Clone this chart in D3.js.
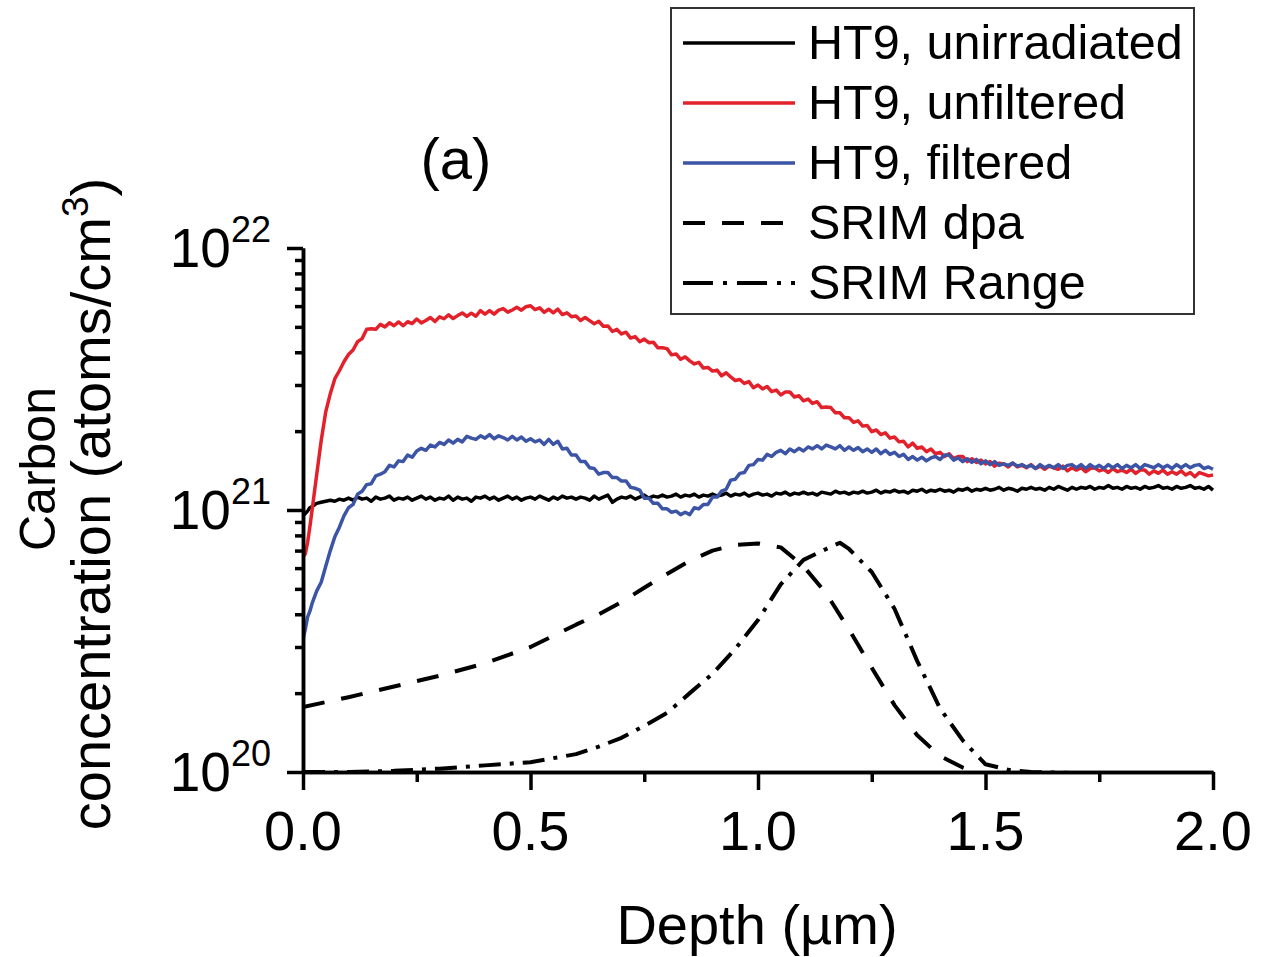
<!DOCTYPE html>
<html>
<head>
<meta charset="utf-8">
<script src="https://cdn.jsdelivr.net/npm/d3@7"></script>
<style>
  html, body { margin: 0; padding: 0; background: #ffffff; }
  svg { display: block; font-family: "Liberation Sans", Arial, Helvetica, sans-serif; }
</style>
</head>
<body>
<svg id="chart" width="1272" height="957"></svg>
<script>
// Depth grid (µm) shared by the three measured profiles
const depth = [
  0, 0.005, 0.01, 0.015, 0.02, 0.03, 0.04, 0.05, 0.06, 0.07, 0.08, 0.09,
  0.10, 0.11, 0.12, 0.13, 0.14, 0.15, 0.16, 0.17, 0.18, 0.19,
  0.20, 0.21, 0.22, 0.23, 0.24, 0.25, 0.26, 0.27, 0.28, 0.29,
  0.30, 0.31, 0.32, 0.33, 0.34, 0.35, 0.36, 0.37, 0.38, 0.39,
  0.40, 0.41, 0.42, 0.43, 0.44, 0.45, 0.46, 0.47, 0.48, 0.49,
  0.50, 0.51, 0.52, 0.53, 0.54, 0.55, 0.56, 0.57, 0.58, 0.59,
  0.60, 0.61, 0.62, 0.63, 0.64, 0.65, 0.66, 0.67, 0.68, 0.69,
  0.70, 0.71, 0.72, 0.73, 0.74, 0.75, 0.76, 0.77, 0.78, 0.79,
  0.80, 0.81, 0.82, 0.83, 0.84, 0.85, 0.86, 0.87, 0.88, 0.89,
  0.90, 0.91, 0.92, 0.93, 0.94, 0.95, 0.96, 0.97, 0.98, 0.99,
  1.00, 1.01, 1.02, 1.03, 1.04, 1.05, 1.06, 1.07, 1.08, 1.09,
  1.10, 1.11, 1.12, 1.13, 1.14, 1.15, 1.16, 1.17, 1.18, 1.19,
  1.20, 1.21, 1.22, 1.23, 1.24, 1.25, 1.26, 1.27, 1.28, 1.29,
  1.30, 1.31, 1.32, 1.33, 1.34, 1.35, 1.36, 1.37, 1.38, 1.39,
  1.40, 1.41, 1.42, 1.43, 1.44, 1.45, 1.46, 1.47, 1.48, 1.49,
  1.50, 1.51, 1.52, 1.53, 1.54, 1.55, 1.56, 1.57, 1.58, 1.59,
  1.60, 1.61, 1.62, 1.63, 1.64, 1.65, 1.66, 1.67, 1.68, 1.69,
  1.70, 1.71, 1.72, 1.73, 1.74, 1.75, 1.76, 1.77, 1.78, 1.79,
  1.80, 1.81, 1.82, 1.83, 1.84, 1.85, 1.86, 1.87, 1.88, 1.89,
  1.90, 1.91, 1.92, 1.93, 1.94, 1.95, 1.96, 1.97, 1.98, 1.99,
  2.00
];

// Carbon concentration, in units of 1e21 atoms/cm^3
const unirradiated = [
  0.95, 0.97, 0.99, 1.02, 1.03, 1.06, 1.07, 1.08, 1.09, 1.08, 1.10, 1.09,
  1.11, 1.09, 1.12, 1.10, 1.11, 1.08, 1.12, 1.10, 1.11, 1.13,
  1.09, 1.11, 1.10, 1.12, 1.09, 1.11, 1.13, 1.10, 1.12, 1.09,
  1.11, 1.10, 1.13, 1.09, 1.12, 1.10, 1.11, 1.08, 1.12, 1.11,
  1.13, 1.10, 1.12, 1.09, 1.11, 1.13, 1.10, 1.12, 1.09, 1.11,
  1.12, 1.10, 1.13, 1.11, 1.09, 1.12, 1.10, 1.13, 1.11, 1.12,
  1.10, 1.12, 1.11, 1.09, 1.13, 1.10, 1.12, 1.14, 1.07, 1.10,
  1.12, 1.11, 1.13, 1.10, 1.12, 1.14, 1.11, 1.13, 1.12, 1.14,
  1.12, 1.13, 1.15, 1.12, 1.14, 1.13, 1.15, 1.12, 1.14, 1.13,
  1.15, 1.13, 1.14, 1.16, 1.13, 1.15, 1.14, 1.16, 1.13, 1.15,
  1.16, 1.14, 1.15, 1.13, 1.16, 1.15, 1.17, 1.14, 1.16, 1.15,
  1.17, 1.15, 1.16, 1.14, 1.17, 1.16, 1.15, 1.18, 1.16, 1.17,
  1.15, 1.17, 1.16, 1.18, 1.16, 1.17, 1.19, 1.16, 1.18, 1.17,
  1.19, 1.17, 1.18, 1.16, 1.19, 1.18, 1.20, 1.17, 1.19, 1.18,
  1.20, 1.18, 1.19, 1.17, 1.20, 1.19, 1.21, 1.18, 1.20, 1.19,
  1.21, 1.19, 1.20, 1.22, 1.19, 1.21, 1.20, 1.18, 1.21, 1.20,
  1.22, 1.20, 1.21, 1.19, 1.22, 1.20, 1.23, 1.21, 1.19, 1.22,
  1.20, 1.22, 1.21, 1.23, 1.20, 1.22, 1.21, 1.24, 1.21, 1.22,
  1.20, 1.23, 1.21, 1.22, 1.20, 1.23, 1.21, 1.22, 1.24, 1.21,
  1.22, 1.20, 1.23, 1.21, 1.22, 1.24, 1.21, 1.22, 1.20, 1.23,
  1.19
];

const unfiltered = [
  0.66, 0.68, 0.75, 0.86, 1.00, 1.36, 1.84, 2.37, 2.78, 3.17, 3.40, 3.68,
  3.92, 4.08, 4.39, 4.51, 4.90, 4.92, 4.90, 5.11, 5.00, 5.18,
  5.05, 5.22, 5.05, 5.23, 5.15, 5.36, 5.18, 5.29, 5.43, 5.24,
  5.46, 5.37, 5.56, 5.38, 5.52, 5.65, 5.48, 5.64, 5.49, 5.77,
  5.59, 5.77, 5.59, 5.79, 5.87, 5.69, 5.80, 5.94, 5.79, 5.97,
  6.02, 5.82, 5.91, 5.68, 5.84, 5.66, 5.84, 5.57, 5.66, 5.47,
  5.50, 5.29, 5.43, 5.28, 5.14, 5.25, 5.03, 5.04, 4.80, 4.89,
  4.70, 4.77, 4.53, 4.59, 4.39, 4.49, 4.35, 4.37, 4.16, 4.16,
  4.13, 3.91, 3.94, 3.76, 3.84, 3.71, 3.61, 3.66, 3.48, 3.50,
  3.39, 3.42, 3.25, 3.34, 3.22, 3.12, 3.15, 3.04, 3.09, 2.93,
  3.00, 2.90, 2.96, 2.83, 2.87, 2.75, 2.82, 2.82, 2.70, 2.73,
  2.61, 2.65, 2.55, 2.59, 2.46, 2.47, 2.46, 2.35, 2.35, 2.25,
  2.25, 2.16, 2.19, 2.09, 2.10, 1.99, 2.02, 1.94, 1.97, 1.88,
  1.90, 1.82, 1.83, 1.74, 1.80, 1.72, 1.74, 1.67, 1.71, 1.64,
  1.66, 1.60, 1.64, 1.57, 1.60, 1.60, 1.53, 1.57, 1.52, 1.55,
  1.50, 1.53, 1.47, 1.51, 1.50, 1.46, 1.51, 1.46, 1.48, 1.45,
  1.49, 1.44, 1.47, 1.43, 1.47, 1.45, 1.43, 1.47, 1.41, 1.45,
  1.42, 1.45, 1.40, 1.44, 1.45, 1.41, 1.43, 1.39, 1.44, 1.40,
  1.42, 1.39, 1.43, 1.38, 1.42, 1.42, 1.37, 1.41, 1.38, 1.42,
  1.37, 1.40, 1.37, 1.41, 1.36, 1.39, 1.34, 1.39, 1.37, 1.35,
  1.36
];

const filtered = [
  0.32, 0.35, 0.39, 0.41, 0.44, 0.49, 0.53, 0.61, 0.70, 0.79, 0.86, 0.95,
  1.02, 1.05, 1.15, 1.18, 1.25, 1.26, 1.35, 1.37, 1.40, 1.48,
  1.46, 1.54, 1.53, 1.62, 1.59, 1.68, 1.72, 1.69, 1.77, 1.74,
  1.81, 1.78, 1.85, 1.80, 1.86, 1.82, 1.91, 1.88, 1.86, 1.92,
  1.88, 1.94, 1.87, 1.92, 1.89, 1.85, 1.91, 1.85, 1.90, 1.83,
  1.87, 1.82, 1.85, 1.78, 1.86, 1.78, 1.83, 1.71, 1.72, 1.62,
  1.62, 1.53, 1.53, 1.45, 1.44, 1.37, 1.39, 1.39, 1.33, 1.33,
  1.29, 1.29, 1.22, 1.21, 1.19, 1.11, 1.11, 1.06, 1.06, 1.01,
  1.01, 0.98, 0.99, 0.96, 0.98, 0.96, 1.02, 1.01, 1.05, 1.05,
  1.12, 1.12, 1.18, 1.20, 1.30, 1.31, 1.38, 1.39, 1.48, 1.49,
  1.56, 1.55, 1.63, 1.60, 1.66, 1.69, 1.64, 1.71, 1.67, 1.72,
  1.68, 1.74, 1.71, 1.76, 1.71, 1.77, 1.74, 1.71, 1.76, 1.69,
  1.74, 1.69, 1.73, 1.67, 1.71, 1.66, 1.71, 1.64, 1.69, 1.63,
  1.66, 1.60, 1.63, 1.56, 1.60, 1.55, 1.59, 1.54, 1.58, 1.60,
  1.56, 1.62, 1.62, 1.55, 1.58, 1.53, 1.57, 1.52, 1.56, 1.50,
  1.54, 1.49, 1.53, 1.48, 1.50, 1.48, 1.51, 1.47, 1.49, 1.46,
  1.48, 1.44, 1.49, 1.45, 1.48, 1.45, 1.49, 1.44, 1.48, 1.49,
  1.45, 1.49, 1.44, 1.49, 1.45, 1.48, 1.44, 1.49, 1.45, 1.49,
  1.44, 1.48, 1.45, 1.49, 1.44, 1.49, 1.47, 1.45, 1.49, 1.45,
  1.48, 1.44, 1.49, 1.45, 1.49, 1.45, 1.48, 1.49, 1.44, 1.46,
  1.43
];

// SRIM damage profile (scaled onto the concentration axis)
const dpaDepth = [0, 0.1, 0.2, 0.3, 0.4, 0.5, 0.6, 0.65, 0.7, 0.75, 0.8, 0.85, 0.9, 0.95, 1.0, 1.05, 1.1, 1.15, 1.2, 1.25, 1.3, 1.35, 1.4, 1.45, 1.5];
const dpaValue = [0.177, 0.193, 0.212, 0.233, 0.26, 0.30, 0.365, 0.40, 0.445, 0.505, 0.57, 0.64, 0.70, 0.735, 0.745, 0.72, 0.61, 0.48, 0.35, 0.25, 0.18, 0.138, 0.115, 0.104, 0.097];

// SRIM implanted-ion range profile
const rangeDepth = [0, 0.1, 0.2, 0.3, 0.4, 0.5, 0.6, 0.65, 0.7, 0.75, 0.8, 0.85, 0.9, 0.95, 1.0, 1.05, 1.1, 1.15, 1.18, 1.2, 1.25, 1.3, 1.35, 1.4, 1.45, 1.5, 1.55, 1.6, 1.7];
const rangeValue = [0.1, 0.1, 0.101, 0.103, 0.106, 0.109, 0.117, 0.125, 0.135, 0.15, 0.168, 0.20, 0.237, 0.295, 0.38, 0.52, 0.645, 0.71, 0.75, 0.71, 0.58, 0.42, 0.265, 0.175, 0.132, 0.107, 0.102, 0.1, 0.099];

const xMajorTicks = [0, 0.5, 1.0, 1.5, 2.0];
const xMinorTicks = [0.25, 0.75, 1.25, 1.75];
const yMajorTicks = [1e20, 1e21, 1e22];
const yMinorTicks = [2e20, 3e20, 4e20, 5e20, 6e20, 7e20, 8e20, 9e20, 2e21, 3e21, 4e21, 5e21, 6e21, 7e21, 8e21, 9e21];

const legendLabels = ["HT9, unirradiated", "HT9, unfiltered", "HT9, filtered", "SRIM dpa", "SRIM Range"];

const UNIT = 1e21;
const svg = d3.select("#chart");

const plotLeft = 303, plotRight = 1213, plotTop = 248, plotBottom = 772;
const x = d3.scaleLinear().domain([0, 2]).range([plotLeft, plotRight]);
const y = d3.scaleLog().domain([1e20, 1e22]).range([plotBottom, plotTop]);

svg.append("defs").append("clipPath").attr("id", "plotClip")
  .append("rect").attr("x", plotLeft).attr("y", plotTop - 10)
  .attr("width", plotRight - plotLeft + 2).attr("height", plotBottom - plotTop + 10);

const line = d3.line().x(d => x(d[0])).y(d => y(d[1] * UNIT));

const series = [
  { name: legendLabels[0], values: unirradiated, depth: depth, color: "#000000", dash: null, legendDash: null, width: 3.5 },
  { name: legendLabels[1], values: unfiltered, depth: depth, color: "#e3212b", dash: null, legendDash: null, width: 3.5 },
  { name: legendLabels[2], values: filtered, depth: depth, color: "#3c54a5", dash: null, legendDash: null, width: 3.5 },
  { name: legendLabels[3], values: dpaValue, depth: dpaDepth, color: "#000000", dash: "22,17", legendDash: "22,17", width: 4 },
  { name: legendLabels[4], values: rangeValue, depth: rangeDepth, color: "#000000", dash: "22,9,4,9", legendDash: "30,10,4,10", width: 4 }
];

const plot = svg.append("g").attr("clip-path", "url(#plotClip)");
series.forEach(s => {
  const pts = s.depth.map((d, i) => [d, s.values[i]]);
  plot.append("path")
    .attr("d", line(pts))
    .attr("fill", "none")
    .attr("stroke", s.color)
    .attr("stroke-width", s.width)
    .attr("stroke-linejoin", "round")
    .attr("stroke-dasharray", s.dash);
});

// Axes
function styleAxis(g) {
  g.select(".domain").attr("stroke", "#000").attr("stroke-width", 3.5);
  g.selectAll(".tick line").attr("stroke", "#000").attr("stroke-width", 3.5);
  g.selectAll(".tick text").remove();
}

svg.append("g").attr("transform", `translate(0,${plotBottom})`)
  .call(d3.axisBottom(x).tickValues(xMajorTicks).tickSize(18).tickSizeOuter(0).tickFormat(""))
  .call(styleAxis);
svg.append("g").attr("transform", `translate(0,${plotBottom})`)
  .call(d3.axisBottom(x).tickValues(xMinorTicks).tickSize(10).tickSizeOuter(0).tickFormat(""))
  .call(styleAxis);
svg.append("g").attr("transform", `translate(${plotLeft},0)`)
  .call(d3.axisLeft(y).tickValues(yMajorTicks).tickSize(16).tickSizeOuter(0).tickFormat(""))
  .call(styleAxis);
svg.append("g").attr("transform", `translate(${plotLeft},0)`)
  .call(d3.axisLeft(y).tickValues(yMinorTicks).tickSize(8).tickSizeOuter(0).tickFormat(""))
  .call(styleAxis);

// Tick labels
const fmt = d3.format(".1f");
svg.append("g").selectAll("text").data(xMajorTicks).join("text")
  .attr("x", d => x(d)).attr("y", 850)
  .attr("text-anchor", "middle")
  .style("font-size", "56px")
  .text(d => fmt(d));

const yLab = svg.append("g").selectAll("text").data(yMajorTicks).join("text")
  .attr("x", 271).attr("y", d => y(d) + 19)
  .attr("text-anchor", "end")
  .style("font-size", "55px");
yLab.append("tspan").text("10");
yLab.append("tspan").attr("dy", -25).style("font-size", "36px").text(d => Math.round(Math.log10(d)));

// Axis titles
svg.append("text")
  .attr("x", 757).attr("y", 944)
  .attr("text-anchor", "middle")
  .style("font-size", "56px")
  .text("Depth (µm)");

svg.append("text")
  .attr("transform", "translate(55,469) rotate(-90)")
  .attr("text-anchor", "middle")
  .style("font-size", "50px")
  .text("Carbon");

const yTitle = svg.append("text")
  .attr("transform", "translate(110,504) rotate(-90)")
  .attr("text-anchor", "middle")
  .style("font-size", "56px");
yTitle.append("tspan").text("concentration (atoms/cm");
yTitle.append("tspan").attr("dy", -22).style("font-size", "37px").text("3");
yTitle.append("tspan").attr("dy", 22).text(")");

// Panel label
svg.append("text")
  .attr("x", 456).attr("y", 179)
  .attr("text-anchor", "middle")
  .style("font-size", "58px")
  .text("(a)");

// Legend
const legend = svg.append("g");
legend.append("rect")
  .attr("x", 671).attr("y", 8).attr("width", 523).attr("height", 306)
  .attr("fill", "#fff").attr("stroke", "#333").attr("stroke-width", 2);
const rowY = d3.scalePoint().domain(legendLabels).range([43, 283]);
series.forEach(s => {
  const yy = rowY(s.name);
  legend.append("line")
    .attr("x1", 683).attr("x2", 795).attr("y1", yy).attr("y2", yy)
    .attr("stroke", s.color).attr("stroke-width", s.width)
    .attr("stroke-dasharray", s.legendDash);
  legend.append("text")
    .attr("x", 808).attr("y", yy + 16)
    .style("font-size", "48.5px")
    .text(s.name);
});
</script>
</body>
</html>
